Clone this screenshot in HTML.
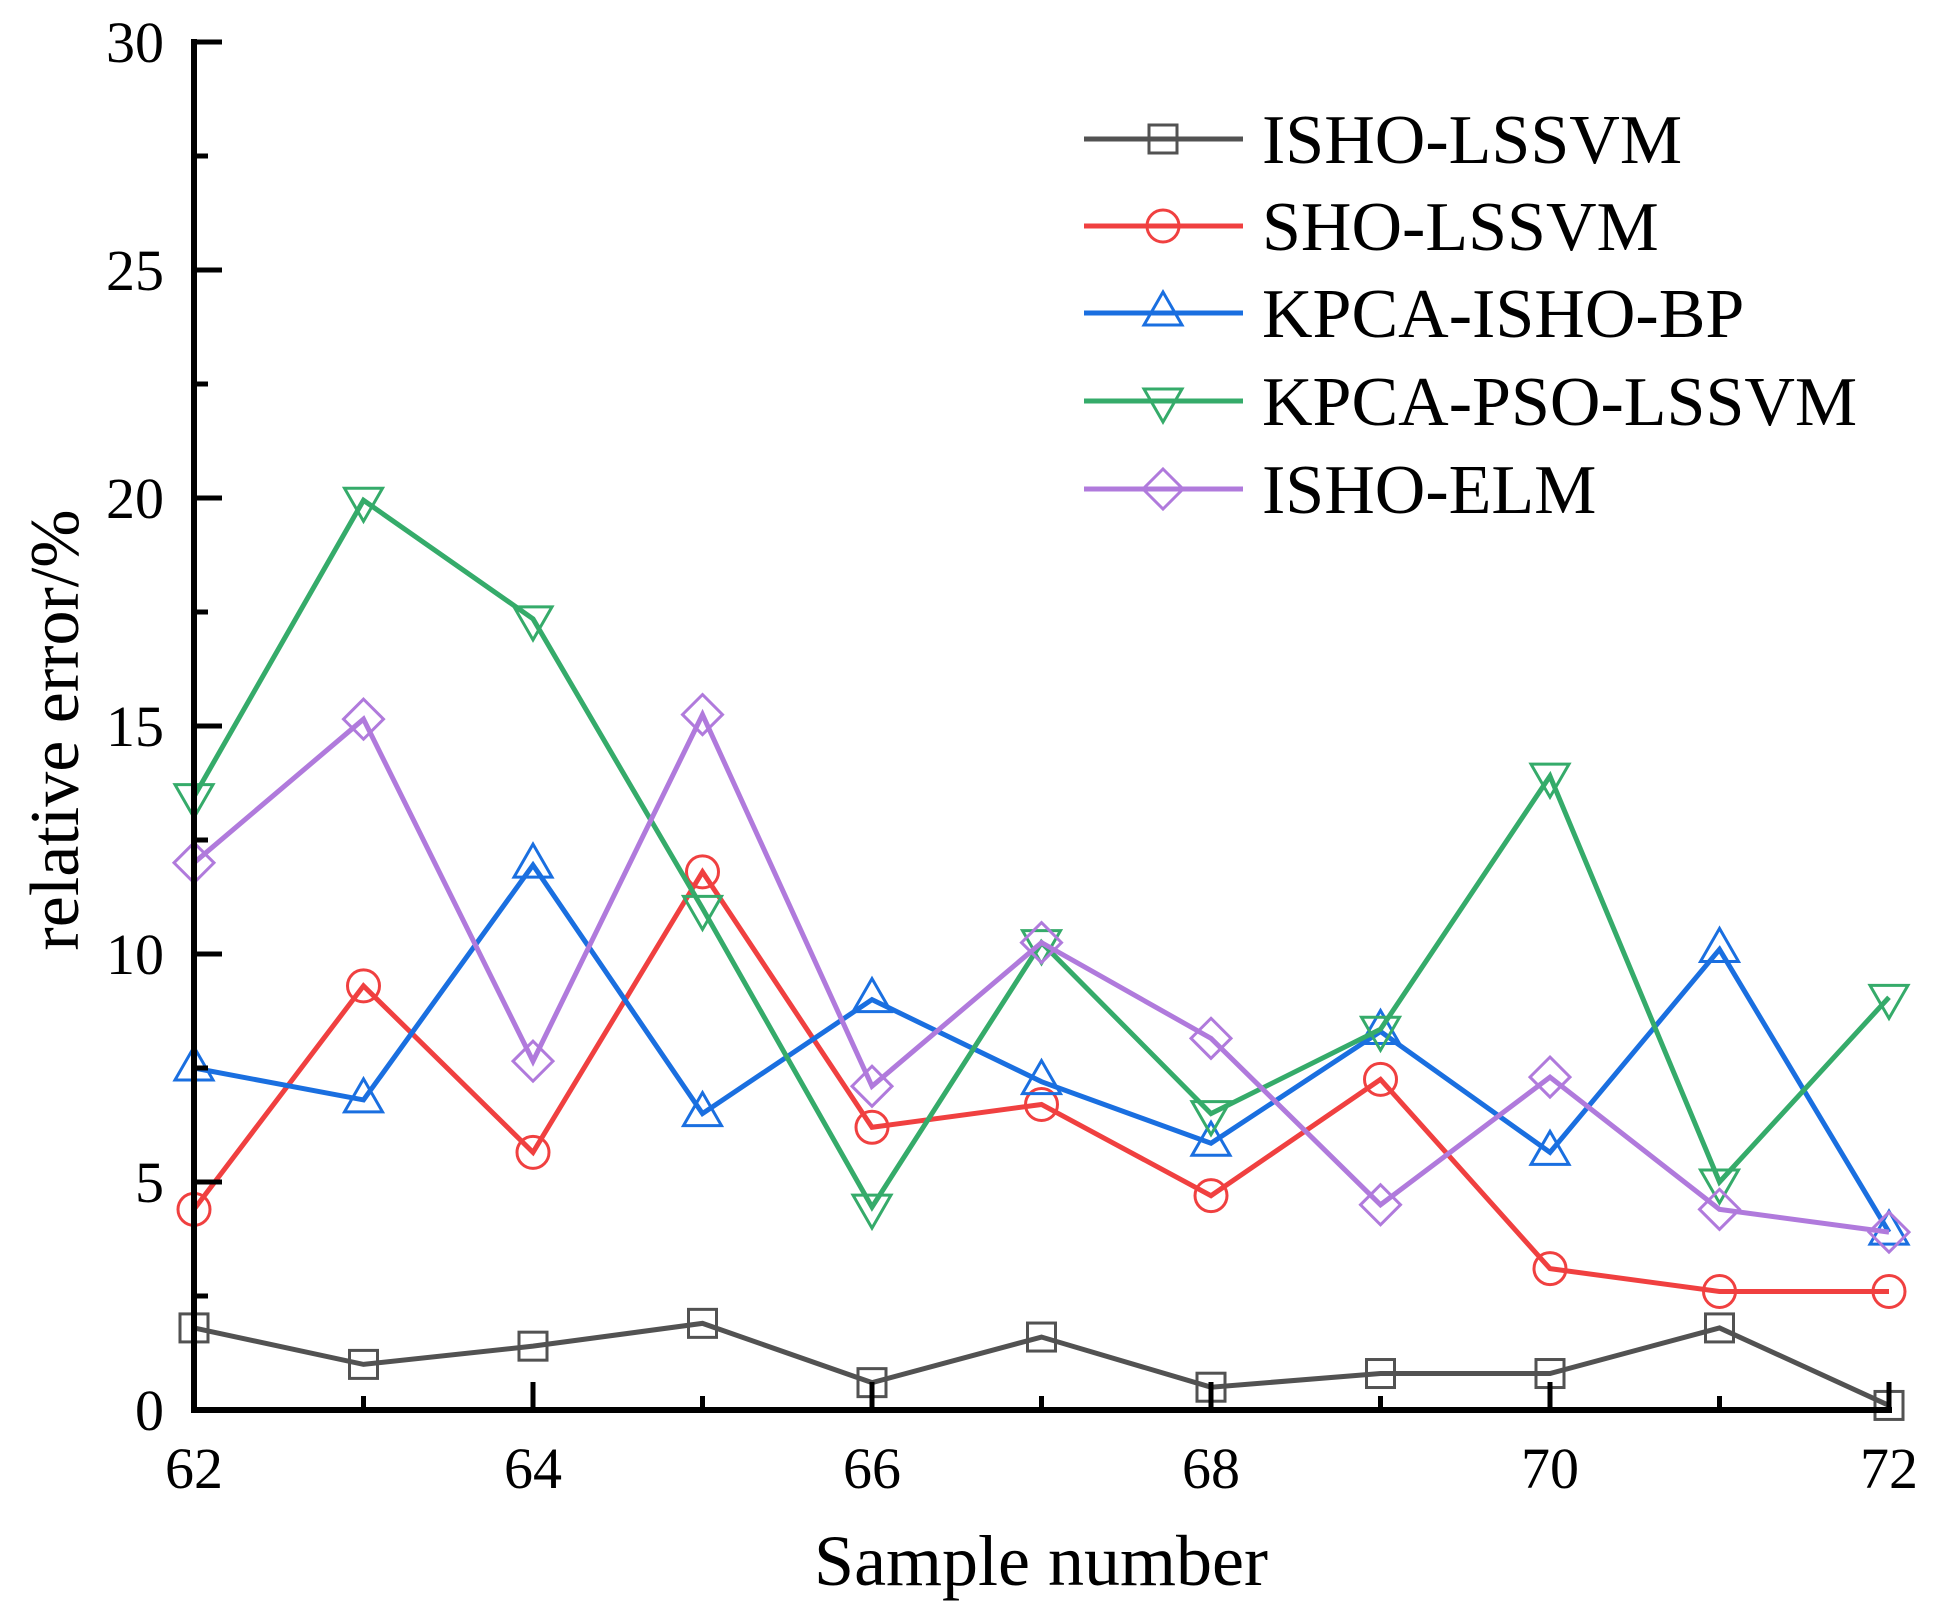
<!DOCTYPE html>
<html><head><meta charset="utf-8"><style>
html,body{margin:0;padding:0;background:#fff}
svg{display:block}
text{font-family:"Liberation Serif",serif;fill:#000}
</style></head><body>
<svg id="chart" width="1939" height="1619" viewBox="0 0 1939 1619" xmlns="http://www.w3.org/2000/svg">
<g id="plot"></g>
<g id="axes"></g>
<text x="1041" y="1585" font-size="72" text-anchor="middle">Sample number</text>
<text transform="translate(78,730) rotate(-90)" font-size="70" text-anchor="middle">relative error/%</text>
<g id="legend"></g>
</svg>
<script>
const categories = [62,63,64,65,66,67,68,69,70,71,72];
const xTicks = [62,64,66,68,70,72];
const yTicks = [0,5,10,15,20,25,30];
const seriesNames = ["ISHO-LSSVM","SHO-LSSVM","KPCA-ISHO-BP","KPCA-PSO-LSSVM","ISHO-ELM"];
const isholssvm = [1.8,1.0,1.4,1.9,0.6,1.6,0.5,0.8,0.8,1.8,0.1];
const sholssvm = [4.4,9.3,5.65,11.8,6.2,6.7,4.7,7.25,3.1,2.6,2.6];
const kpcaishobp = [7.5,6.8,11.95,6.5,9.0,7.2,5.85,8.3,5.65,10.1,3.9];
const kpcapsolssvm = [13.45,19.95,17.35,11.0,4.45,10.25,6.5,8.35,13.9,5.0,9.05];
const ishoelm = [12.0,15.15,7.65,15.25,7.1,10.25,8.15,4.5,7.3,4.4,3.9];

const NS="http://www.w3.org/2000/svg";
const X0=194,X1=1889,Y0=1410,Y1=42;
const xs=v=>X0+(v-62)/(72-62)*(X1-X0);
const ys=v=>Y0-(v-0)/(30-0)*(Y0-Y1);
function mk(tag,attrs,parent){const e=document.createElementNS(NS,tag);for(const k in attrs)e.setAttribute(k,attrs[k]);parent.appendChild(e);return e;}
const plot=document.getElementById('plot'),axes=document.getElementById('axes'),legend=document.getElementById('legend');

const styles=[{c:"#525252",m:"square"},{c:"#f04040",m:"circle"},{c:"#1a6fe0",m:"tri-up"},{c:"#35ab6a",m:"tri-down"},{c:"#b07adc",m:"diamond"}];
const data=[isholssvm,sholssvm,kpcaishobp,kpcapsolssvm,ishoelm];

function marker(type,cx,cy,color,parent){
  let e;
  if(type==="square") e=mk('rect',{x:cx-14,y:cy-14,width:28,height:28},parent);
  else if(type==="circle") e=mk('circle',{cx:cx,cy:cy,r:16},parent);
  else if(type==="tri-up") e=mk('polygon',{points:`${cx},${cy-21} ${cx-19},${cy+12} ${cx+19},${cy+12}`},parent);
  else if(type==="tri-down") e=mk('polygon',{points:`${cx},${cy+21} ${cx-19},${cy-12} ${cx+19},${cy-12}`},parent);
  else e=mk('polygon',{points:`${cx},${cy-20} ${cx+20},${cy} ${cx},${cy+20} ${cx-20},${cy}`},parent);
  e.setAttribute('fill','none');e.setAttribute('stroke',color);e.setAttribute('stroke-width','3');
  return e;
}

data.forEach((arr,si)=>{
  const g=mk('g',{},plot);
  
  
  const pts=arr.map((v,i)=>xs(categories[i])+','+ys(v)).join(' ');
  const pl=mk('polyline',{points:pts,fill:'none',stroke:styles[si].c,'stroke-width':5,'stroke-linejoin':'miter'},g);
  
  
  arr.forEach((v,i)=>{
    const m=marker(styles[si].m,xs(categories[i]),ys(v),styles[si].c,g);
    
    
  });
});

// axes
const yAx=mk('line',{x1:X0,y1:Y1-3,x2:X0,y2:Y0+3,stroke:'#000','stroke-width':6},axes);


const xAx=mk('line',{x1:X0-3,y1:Y0,x2:X1+3,y2:Y0,stroke:'#000','stroke-width':6},axes);


for(let v=0;v<=30;v+=2.5){
  const major=v%5===0;
  const t=mk('line',{x1:X0,y1:ys(v),x2:X0+(major?28:14),y2:ys(v),stroke:'#000','stroke-width':5},axes);
  
  
}
yTicks.forEach(v=>{
  const t=mk('text',{x:164,y:ys(v)+20,'font-size':58,'text-anchor':'end'},axes);
  t.textContent=v;
  
  
});
categories.forEach(v=>{
  const major=(v%2===0);
  const t=mk('line',{x1:xs(v),y1:Y0,x2:xs(v),y2:Y0-(major?28:14),stroke:'#000','stroke-width':5},axes);
  
  
});
xTicks.forEach(v=>{
  const t=mk('text',{x:xs(v),y:1488,'font-size':58,'text-anchor':'middle'},axes);
  t.textContent=v;
  
  
});

// legend
const rowY=[139,226,313,401,489];
seriesNames.forEach((n,i)=>{
  const g=mk('g',{},legend);
  
  
  mk('line',{x1:1084,y1:rowY[i],x2:1243,y2:rowY[i],stroke:styles[i].c,'stroke-width':5},g);
  marker(styles[i].m,1163,rowY[i],styles[i].c,g);
  const t=mk('text',{x:1262,y:rowY[i]+24,'font-size':70},g);
  t.textContent=n;
});
</script>
</body></html>
